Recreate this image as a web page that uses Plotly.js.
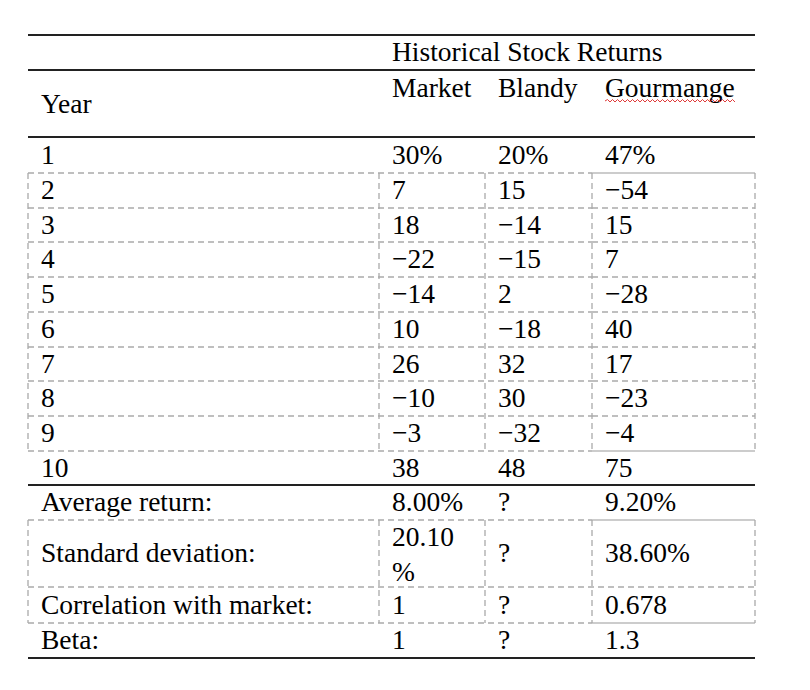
<!DOCTYPE html>
<html>
<head>
<meta charset="utf-8">
<script src="https://cdn.plot.ly/plotly-3.0.1.min.js"></script>
<style>html,body{margin:0;padding:0;background:#fff;}#chart{width:810px;height:690px;}</style>
</head>
<body>
<div id="chart"></div>
<script>
// ---- data ----
var groupTitle = 'Historical Stock Returns';
var rowHeader = 'Year';
var columns = ['Market', 'Blandy', 'Gourmange'];
var years = ['1', '2', '3', '4', '5', '6', '7', '8', '9', '10'];
var market = [30, 7, 18, -22, -14, 10, 26, -10, -3, 38];
var blandy = [20, 15, -14, -15, 2, -18, 32, 30, -32, 48];
var gourmange = [47, -54, 15, 7, -28, 40, 17, -23, -4, 75];
var statLabels = ['Average return:', 'Standard deviation:', 'Correlation with market:', 'Beta:'];
var marketStats = ['8.00%', '20.10<br>%', '1', '1'];
var blandyStats = ['?', '?', '?', '?'];
var gourmangeStats = ['9.20%', '38.60%', '0.678', '1.3'];

// ---- layout geometry (pixel space) ----
var colEdges = [28, 379, 485, 592, 755];
var pad = 13;
var yTop = 35, yGroup = 70, yHead = 137;
var yearRows = [137, 173, 208, 242, 277, 312, 347, 381, 416, 451, 485];
var statRows = [485, 520, 587, 623, 658];
var dy = 2; // baseline nudge

function fmt(v, i) {
  var s = (v < 0 ? '\u2212' : '') + Math.abs(v);
  return i === 0 ? s + '%' : s;
}
function mid(a, i) { return (a[i] + a[i + 1]) / 2 + dy; }

var FONT = {family: '"Liberation Serif", "Times New Roman", serif', size: 27.5, color: '#000'};
var traces = [];
function addText(xs, ys, texts) {
  traces.push({
    type: 'scatter', mode: 'text', x: xs, y: ys, text: texts,
    textposition: 'middle right', textfont: FONT, hoverinfo: 'skip', showlegend: false,
    cliponaxis: false
  });
}

// first column
var c0x = [], c0y = [], c0t = [];
c0x.push(colEdges[0] + pad); c0y.push(mid([yGroup, yHead], 0) + 1); c0t.push(rowHeader);
years.forEach(function (y, i) { c0x.push(colEdges[0] + pad); c0y.push(mid(yearRows, i)); c0t.push(y); });
statLabels.forEach(function (s, i) { c0x.push(colEdges[0] + pad); c0y.push(mid(statRows, i)); c0t.push(s); });
addText(c0x, c0y, c0t);

// group title
addText([colEdges[1] + pad], [mid([yTop, yGroup], 0)], [groupTitle]);

var series = [market, blandy, gourmange];
var stats = [marketStats, blandyStats, gourmangeStats];
series.forEach(function (vals, c) {
  var xs = [], ys = [], ts = [];
  var x = colEdges[c + 1] + pad;
  xs.push(x); ys.push(yGroup + 18 + dy); ts.push(columns[c]);
  vals.forEach(function (v, i) { xs.push(x); ys.push(mid(yearRows, i)); ts.push(fmt(v, i)); });
  stats[c].forEach(function (s, i) { xs.push(x); ys.push(mid(statRows, i) + (s.indexOf('<br>') >= 0 ? 1 : 0)); ts.push(s); });
  addText(xs, ys, ts);
});

// ---- lines ----
var shapes = [];
var SOLID = {color: '#222', width: 2};
var DASH = {color: '#aaa', width: 1.3, dash: '6px,4px'};
var LIGHT = {color: '#bbb', width: 1.3};
function hline(y, x0, x1, line) { shapes.push({type: 'line', xref: 'x', yref: 'y', x0: x0, x1: x1, y0: y, y1: y, line: line}); }
function vline(x, y0, y1, line) { shapes.push({type: 'line', xref: 'x', yref: 'y', x0: x, x1: x, y0: y0, y1: y1, line: line}); }

var L = colEdges[0], R = colEdges[colEdges.length - 1];
hline(yTop, L, R, SOLID);
hline(yGroup, L, R, SOLID);
hline(yHead, L, R, SOLID);
hline(yearRows[yearRows.length - 1], L, R, SOLID);
hline(statRows[statRows.length - 1], L, R, SOLID);

// dashed grid rows 2-9
function dashedBlock(y0, y1, rows, solidGourTB) {
  rows.forEach(function (y, k) {
    hline(y, L, colEdges[3], DASH);
    if (solidGourTB && (k === 0 || k === rows.length - 1)) hline(y, colEdges[3], R, LIGHT);
    else hline(y, colEdges[3], R, DASH);
  });
  colEdges.forEach(function (x) { vline(x, y0, y1, DASH); });
}
dashedBlock(yearRows[1], yearRows[9], yearRows.slice(1, 10), true);
hline(statRows[1], L, colEdges[3], DASH); hline(statRows[1], colEdges[3], R, LIGHT);
hline(statRows[2], L, R, DASH);
hline(statRows[3], L, colEdges[3], DASH); hline(statRows[3], colEdges[3], R, LIGHT);
colEdges.forEach(function (x) { vline(x, statRows[1], statRows[3], DASH); });

// spell-check wavy underline under "Gourmange"
(function () {
  var x0 = colEdges[3] + pad, x1 = x0 + 131, y = yGroup + 31, d = 'M' + x0 + ',' + y, up = true;
  for (var x = x0 + 2.5; x <= x1; x += 2.5) { d += ' L' + x.toFixed(1) + ',' + (up ? y - 1.5 : y + 1); up = !up; }
  shapes.push({type: 'path', xref: 'x', yref: 'y', path: d, line: {color: '#e03a3a', width: 1}});
})();

var layout = {
  width: 810, height: 690,
  margin: {l: 0, r: 0, t: 0, b: 0},
  paper_bgcolor: '#fff', plot_bgcolor: '#fff',
  xaxis: {range: [0, 810], visible: false, fixedrange: true},
  yaxis: {range: [690, 0], visible: false, fixedrange: true},
  shapes: shapes,
  showlegend: false
};
Plotly.newPlot('chart', traces, layout, {displayModeBar: false, staticPlot: true});
</script>
</body>
</html>
